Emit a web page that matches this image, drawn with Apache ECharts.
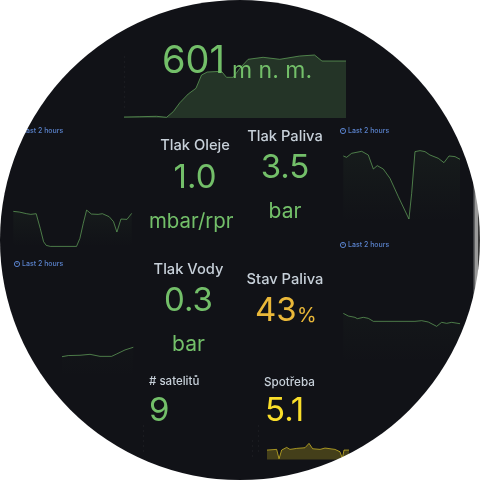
<!DOCTYPE html>
<html>
<head>
<meta charset="utf-8">
<style>
  html, body { margin: 0; padding: 0; background: #fff; }
  #main { width: 480px; height: 480px; border-radius: 50%; overflow: hidden; }
</style>
</head>
<body>
<div id="main"></div>
<script src="https://cdn.jsdelivr.net/npm/echarts@6/dist/echarts.min.js"></script>
<script>
// sparkline data, minutes within the last 2 hours
var altTime = [0, 8.6, 17.6, 23, 26.6, 30.2, 34.7, 38.9, 41.9, 45, 52.7, 55.4, 59, 62.6, 67.1, 75.2, 84.2, 95, 103, 107, 120];
var altValues = [545, 545.3, 545.7, 544.7, 550.3, 559.3, 568, 573.7, 587, 590, 590.7, 584.7, 584.7, 593.7, 602.7, 604.7, 602.7, 606, 607, 601, 601];

var oilTime = [0, 6.1, 13.6, 17.7, 23.2, 27.3, 30.7, 33.4, 37.5, 64.1, 67.5, 70.9, 74.3, 79.1, 85.9, 90.3, 97.2, 101.6, 105, 109.1, 115.2, 120];
var oilValues = [1.05, 1.03, 0.98, 0.96, 0.98, 0.54, 0.14, 0.03, 0, 0, 0.24, 0.69, 1.09, 0.97, 0.96, 0.98, 0.89, 0.74, 0.43, 0.82, 0.81, 0.99];

var fuelPressTime = [0, 3.4, 8.6, 18.9, 25.7, 30.9, 34.9, 41.1, 48, 56.6, 67.5, 70.3, 73.7, 78.9, 84, 89.1, 97.7, 103.5, 108.7, 114.9, 120];
var fuelPressValues = [3.6, 3.56, 3.68, 3.74, 3.63, 3.21, 3.31, 3.21, 2.93, 2.38, 1.71, 2.48, 3.73, 3.76, 3.73, 3.63, 3.53, 3.4, 3.6, 3.58, 3.5];

var waterTime = [48.7, 55, 66.7, 76.7, 86.7, 98.3, 103.3, 111.7, 120];
var waterValues = [0.24, 0.247, 0.249, 0.255, 0.242, 0.242, 0.257, 0.283, 0.3];

var fuelTime = [0, 5.1, 12, 14.4, 20.6, 25.7, 30.9, 73.7, 80.6, 87.4, 96, 101.1, 106.3, 111.4, 120];
var fuelValues = [46.1, 45.3, 44.9, 44.5, 44.9, 44.6, 43.7, 43.7, 43.9, 43.5, 42.2, 43.4, 43.1, 43.4, 43];

var consTime = [0, 10.6, 13.2, 16.1, 21.6, 25.2, 32.6, 41.7, 46.1, 50.1, 58.2, 63.7, 74.6, 80.1, 82.7, 84.5, 90];
var consValues = [5.1, 5.2, 3.8, 5.1, 5.5, 5.2, 5.35, 5.45, 6.1, 5.3, 5.2, 5.4, 5.2, 4.85, 3.85, 5.1, 5.1];

var green = "#73BF69";
var yellow = "#FADE2A";
var orange = "#EAB839";
var titleColor = "#c7d0d9";
var blue = "#5a82cc";

var myChart = echarts.init(document.querySelector("#main"));

function zipData(t, v) {
  return t.map(function (x, i) { return [x, v[i]]; });
}

// one sparkline panel: its own grid and hidden axes
var grids = [], xAxes = [], yAxes = [], seriesList = [];
function spark(box, t, v, yMin, yMax, xMax, color, fill) {
  var i = grids.length;
  grids.push({ left: box[0], top: box[1], width: box[2], height: box[3] });
  xAxes.push({ type: "value", gridIndex: i, min: 0, max: xMax, show: false });
  yAxes.push({ type: "value", gridIndex: i, min: yMin, max: yMax, show: false });
  seriesList.push({
    type: "line",
    xAxisIndex: i,
    yAxisIndex: i,
    data: zipData(t, v),
    symbol: "none",
    silent: true,
    lineStyle: { color: color, width: 1, opacity: 0.6 },
    areaStyle: fill
  });
}

function flat(color, a) {
  return { color: color, opacity: a };
}
function fade(a) {
  return {
    color: new echarts.graphic.LinearGradient(0, 0, 0, 1, [
      { offset: 0, color: "rgba(115,191,105," + a + ")" },
      { offset: 1, color: "rgba(115,191,105,0)" }
    ])
  };
}

spark([124, 47, 222, 71], altTime, altValues, 544, 615, 120, green, flat(green, 0.2));
spark([13.3, 209.7, 118.4, 36.7], oilTime, oilValues, 0, 1.1, 120, green, fade(0.07));
spark([343.3, 149.3, 116.7, 73.4], fuelPressTime, fuelPressValues, 1.6, 3.8, 120, green, fade(0.08));
spark([13.3, 331.6, 120, 47], waterTime, waterValues, 0.1, 0.4, 120, green, fade(0.02));
spark([343.3, 313, 116.7, 50.7], fuelTime, fuelValues, 31, 46.2, 120, green, fade(0.04));
spark([267, 442.7, 82, 16.7], consTime, consValues, 3.7, 6.2, 90, yellow, flat(yellow, 0.22));

function txt(s, x, y, size, color, align, weight) {
  return {
    type: "text",
    x: x,
    y: y,
    z: 10,
    silent: true,
    style: {
      text: s,
      fill: color,
      font: (weight || 400) + " " + size + "px Inter",
      textAlign: align || "center",
      textVerticalAlign: "middle"
    }
  };
}

function lastTwoHours(x, y) {
  return [
    { type: "circle", z: 10, silent: true, shape: { cx: x, cy: y, r: 2.6 }, style: { fill: "none", stroke: blue, lineWidth: 1 } },
    { type: "line", z: 10, silent: true, shape: { x1: x, y1: y - 1.5, x2: x, y2: y }, style: { stroke: blue, lineWidth: 1 } },
    txt("Last 2 hours", x + 5, y, 7, blue, "left", 500)
  ];
}

function bar(x, y, w, h, color) {
  return { type: "rect", z: 9, silent: true, shape: { x: x, y: y, width: w, height: h }, style: { fill: color } };
}

// faint dashed markers left by the panels
function faint(x, y1, y2) {
  return {
    type: "line", z: 1, silent: true,
    shape: { x1: x + 0.5, y1: y1, x2: x + 0.5, y2: y2 },
    style: { stroke: "#1a1b20", lineWidth: 1, lineDash: [2, 3] }
  };
}

var elements = [
  txt("601", 162, 62, 38, green, "left"),
  txt("m n. m.", 232, 71, 23, green, "left"),
  txt("Tlak Oleje", 195, 146, 14.7, titleColor, "center", 500),
  txt("1.0", 195, 178, 33, green),
  txt("mbar/rpm", 149, 222, 20.4, green, "left"),
  { type: "rect", z: 11, silent: true, shape: { x: 233, y: 205, width: 14, height: 35 }, style: { fill: "#111217" } },
  txt("Tlak Paliva", 285, 137, 14.7, titleColor, "center", 500),
  txt("3.5", 285, 168, 33, green),
  txt("bar", 285, 212, 21, green),
  txt("Tlak Vody", 188.5, 270, 14.7, titleColor, "center", 500),
  txt("0.3", 188.5, 301, 33, green),
  txt("bar", 188.5, 345, 21, green),
  txt("Stav Paliva", 285, 280, 14.7, titleColor, "center", 500),
  txt("43", 255, 311, 33, orange, "left"),
  txt("%", 297, 316, 20, orange, "left"),
  txt("# satelitů", 149, 382, 11.5, titleColor, "left", 500),
  txt("9", 149, 411, 33, green, "left"),
  txt("Spotřeba", 264, 382, 11.7, titleColor, "left", 500),
  txt("5.1", 265, 411, 33, yellow, "left"),
  // scrollbar remains at the right edge
  bar(473, 178, 1.5, 128, "#3d3e42"),
  bar(474.5, 182, 3.5, 110, "#9a9a9a"),
  bar(478, 206, 2, 62, "#3a3a3a"),
  faint(124, 56, 110),
  faint(143, 425, 452),
  faint(258, 425, 452),
  faint(252, 440, 460)
].concat(lastTwoHours(17, 264), lastTwoHours(343, 131), lastTwoHours(343, 245), lastTwoHours(17, 131));

var option = {
  backgroundColor: "#111217",
  animation: false,
  grid: grids,
  xAxis: xAxes,
  yAxis: yAxes,
  series: seriesList,
  graphic: { elements: elements }
};

myChart.setOption(option);
</script>
</body>
</html>
